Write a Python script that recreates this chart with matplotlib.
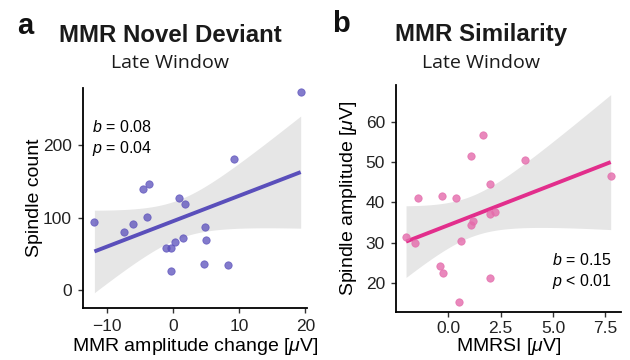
import numpy as np
import matplotlib
matplotlib.use("Agg")
import matplotlib.pyplot as plt

plt.rcParams['font.family'] = ['Liberation Sans', 'DejaVu Sans']
plt.rcParams['mathtext.fontset'] = 'custom'
plt.rcParams['mathtext.rm'] = 'Liberation Sans'
plt.rcParams['mathtext.it'] = 'Liberation Sans:italic'

# panel a: MMR novel deviant vs spindle count
mmr_change = [19.3, 9.25, -3.67, -4.6, 0.95, 1.86, -11.87, -3.97, -6.08, -7.44,
              4.83, 4.93, 1.56, 0.3, -1.1, -0.3, 4.63, 8.35, -0.3]
spindle_count = [274, 181.6, 147, 139.7, 127.7, 119.4, 94.5, 100.5, 91.3, 80.7,
                 86.7, 69.2, 71.9, 66.4, 58.1, 58.1, 35.5, 34.1, 25.9]

# panel b: MMR similarity index vs spindle amplitude
mmrsi = [-2.02, -1.59, -1.45, -0.32, 0.38, -0.41, -0.24, 0.5, 0.59, 1.07,
         1.64, 1.08, 1.2, 1.98, 1.99, 2.23, 2.0, 3.65, 7.76]
spindle_amp = [31.3, 30.0, 41.0, 41.6, 41.0, 24.25, 22.4, 15.3, 30.4, 51.6,
               56.8, 34.3, 35.5, 44.6, 37.1, 37.6, 21.3, 50.5, 46.5]

purple = '#5a4fbb'
pink = '#e22e8c'
pink_pt = '#e46bab'


def lm_band(x, y):
    # ordinary least squares with 95% confidence band (like geom_smooth(method='lm'))
    x = np.asarray(x, float)
    y = np.asarray(y, float)
    n = len(x)
    slope, icpt = np.polyfit(x, y, 1)
    resid = y - (slope * x + icpt)
    s = np.sqrt(np.sum(resid ** 2) / (n - 2))
    sxx = np.sum((x - x.mean()) ** 2)
    t = 2.11  # t(0.975, df=17)
    xs = np.linspace(x.min(), x.max(), 100)
    fit = slope * xs + icpt
    se = s * np.sqrt(1.0 / n + (xs - x.mean()) ** 2 / sxx)
    return xs, fit, fit - t * se, fit + t * se


def style_axes(ax):
    for side in ['top', 'right']:
        ax.spines[side].set_visible(False)
    for side in ['left', 'bottom']:
        ax.spines[side].set_linewidth(1.3)
        ax.spines[side].set_color('black')
    ax.tick_params(length=3.5, width=1.0, color='#333333', labelsize=12.5,
                   labelcolor='#222222', pad=4.5)


fig = plt.figure(figsize=(6.3, 3.6), dpi=100)

# ---- panel a ----
ax1 = fig.add_axes([0.1317, 0.1444, 0.355, 0.611])
xs, fit, lo, hi = lm_band(mmr_change, spindle_count)
ax1.fill_between(xs, lo, hi, color='#e6e6e6', lw=0, zorder=1)
ax1.plot(xs, fit, color=purple, lw=2.8, zorder=2, solid_capstyle='butt')
ax1.scatter(mmr_change, spindle_count, s=28, color=purple, alpha=0.75,
            edgecolor=purple, linewidth=0.6, zorder=3)
ax1.set_xlim(-13.6, 20.2)
ax1.set_ylim(-25, 279)
ax1.set_xticks([-10, 0, 10, 20])
ax1.set_yticks([0, 100, 200])
ax1.set_xticklabels(['\u221210', '0', '10', '20'])
ax1.set_xlabel(r'MMR amplitude change [$\mu$V]', fontsize=14, labelpad=1.5)
ax1.set_ylabel('Spindle count', fontsize=14, labelpad=0)
ax1.text(0.04, 0.86, '$b$ = 0.08\n$p$ = 0.04', transform=ax1.transAxes,
         fontsize=11.5, va='top', ha='left', linespacing=1.3)
style_axes(ax1)

# ---- panel b ----
ax2 = fig.add_axes([0.6286, 0.1325, 0.357, 0.631])
xs, fit, lo, hi = lm_band(mmrsi, spindle_amp)
ax2.fill_between(xs, lo, hi, color='#e6e6e6', lw=0, zorder=1)
ax2.plot(xs, fit, color=pink, lw=2.8, zorder=2, solid_capstyle='butt')
ax2.scatter(mmrsi, spindle_amp, s=28, color=pink_pt, alpha=0.8,
            edgecolor=pink_pt, linewidth=0.6, zorder=3)
ax2.set_xlim(-2.5, 8.25)
ax2.set_ylim(12.66, 69.2)
ax2.set_xticks([0, 2.5, 5, 7.5])
ax2.set_xticklabels(['0.0', '2.5', '5.0', '7.5'])
ax2.set_yticks([20, 30, 40, 50, 60])
ax2.set_xlabel(r'MMRSI [$\mu$V]', fontsize=14, labelpad=0)
ax2.set_ylabel(r'Spindle amplitude [$\mu$V]', fontsize=14, labelpad=5)
ax2.text(0.96, 0.095, '$b$ = 0.15\n$p$ < 0.01', transform=ax2.transAxes,
         fontsize=11.5, va='bottom', ha='right', linespacing=1.3)
style_axes(ax2)
ax2.tick_params(axis='x', pad=3)

# titles and panel letters
fig.text(170 / 630, 1 - 35 / 360, 'MMR Novel Deviant', fontsize=17.3,
         fontweight='bold', ha='center', va='center', color='#1a1a1a')
fig.text(170 / 630, 1 - 63 / 360, 'Late Window', fontsize=14,
         family='Open Sans', ha='center', va='center', color='#1a1a1a')
fig.text(481 / 630, 1 - 35 / 360, 'MMR Similarity', fontsize=17.3,
         fontweight='bold', ha='center', va='center', color='#1a1a1a')
fig.text(481 / 630, 1 - 63 / 360, 'Late Window', fontsize=14,
         family='Open Sans', ha='center', va='center', color='#1a1a1a')
fig.text(25 / 630, 1 - 26 / 360, 'a', fontsize=21, fontweight='bold',
         ha='center', va='center', color='#111111')
fig.text(341 / 630, 1 - 24 / 360, 'b', fontsize=21, fontweight='bold',
         ha='center', va='center', color='#111111')

fig.savefig('out.png', dpi=100)
